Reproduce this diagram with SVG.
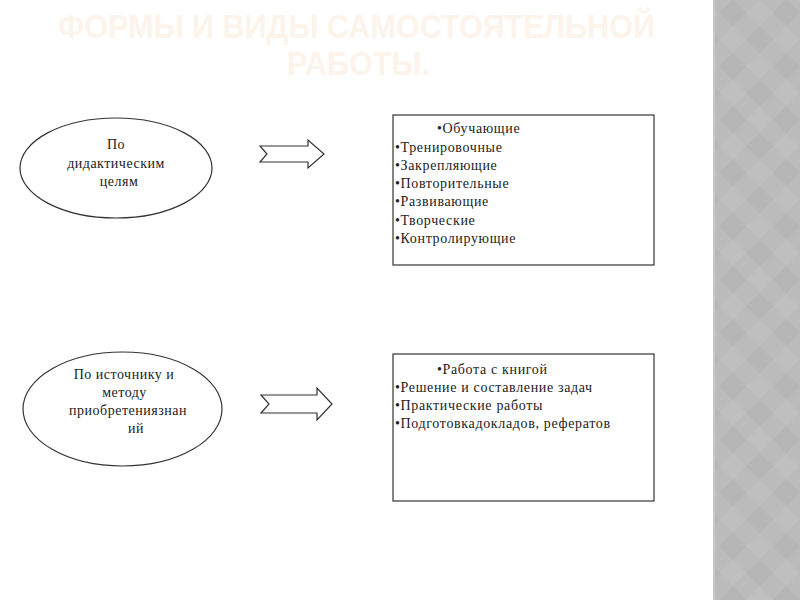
<svg xmlns="http://www.w3.org/2000/svg" width="800" height="600" viewBox="0 0 800 600">
<defs>
<pattern id="diam" patternUnits="userSpaceOnUse" x="733" y="13" width="53.33" height="53.33">
<rect width="53.33" height="53.33" fill="#bbbbbb"/>
<polygon points="0,-13.33 13.33,0 0,13.33 -13.33,0" fill="#b6b6b6"/>
<polygon points="53.33,-13.33 66.67,0 53.33,13.33 40,0" fill="#b6b6b6"/>
<polygon points="0,40 13.33,53.33 0,66.67 -13.33,53.33" fill="#b6b6b6"/>
<polygon points="53.33,40 66.67,53.33 53.33,66.67 40,53.33" fill="#b6b6b6"/>
<polygon points="26.67,13.33 40,26.67 26.67,40 13.33,26.67" fill="#b6b6b6"/>
<polygon points="26.67,-13.33 40,0 26.67,13.33 13.33,0" fill="#bfbfbf"/>
<polygon points="26.67,40 40,53.33 26.67,66.67 13.33,53.33" fill="#bfbfbf"/>
<polygon points="0,13.33 13.33,26.67 0,40 -13.33,26.67" fill="#bfbfbf"/>
<polygon points="53.33,13.33 66.67,26.67 53.33,40 40,26.67" fill="#bfbfbf"/>
</pattern>
</defs>
<style>
.title{font-family:"Liberation Sans",Arial,sans-serif;font-weight:bold;font-size:34px;fill:#fcf4ea}
.shape{fill:#ffffff;stroke:#333333;stroke-width:1.2}
.t{font-family:"Liberation Serif","Times New Roman",serif;font-size:14px;letter-spacing:0.65px;fill:#222222}
.tc{font-family:"Liberation Serif","Times New Roman",serif;font-size:14px;letter-spacing:0.5px;fill:#222222;text-anchor:middle}
</style>
<rect x="0" y="0" width="800" height="600" fill="#ffffff"/>
<rect x="713" y="0" width="87" height="600" fill="url(#diam)"/>
<rect x="713" y="0" width="2" height="600" fill="#c8c8c8"/>
<g id="title">
<text class="title" x="58" y="38" textLength="597" lengthAdjust="spacingAndGlyphs">ФОРМЫ И ВИДЫ САМОСТОЯТЕЛЬНОЙ</text>
<text class="title" x="287" y="75" textLength="143" lengthAdjust="spacingAndGlyphs">РАБОТЫ.</text>
</g>
<g id="connectors">
<polygon class="shape" points="260,146 308,146 308,140 324,154 308,168 308,162 260,162 267,154"/>
<polygon class="shape" points="261,395 317,395 317,388 332,404 317,420 317,413 261,413 269,404"/>
</g>
<g id="node-didactic">
<ellipse class="shape" cx="116" cy="168" rx="96" ry="50"/>
<text class="tc" x="116" y="149">По</text>
<text class="tc" x="116" y="168">дидактическим</text>
<text class="tc" x="119" y="186">целям</text>
</g>
<g id="node-source">
<ellipse class="shape" cx="122.5" cy="409" rx="99.5" ry="57"/>
<text class="tc" x="124" y="379">По источнику и</text>
<text class="tc" x="124.5" y="397">методу</text>
<text class="tc" x="128" y="415">приобретениязнан</text>
<text class="tc" x="136" y="433">ий</text>
</g>
<g id="node-types1">
<rect class="shape" x="393" y="115" width="261" height="150"/>
<text class="t" x="437" y="133">•Обучающие</text>
<text class="t" x="395" y="151.5">•Тренировочные</text>
<text class="t" x="395" y="170">•Закрепляющие</text>
<text class="t" x="395" y="188">•Повторительные</text>
<text class="t" x="395" y="206">•Развивающие</text>
<text class="t" x="395" y="224.5">•Творческие</text>
<text class="t" x="395" y="243">•Контролирующие</text>
</g>
<g id="node-types2">
<rect class="shape" x="393" y="354" width="261" height="147"/>
<text class="t" x="437" y="373.5">•Работа с книгой</text>
<text class="t" x="395" y="392">•Решение и составление задач</text>
<text class="t" x="395" y="410">•Практические работы</text>
<text class="t" x="395" y="428">•Подготовкадокладов, рефератов</text>
</g>
</svg>
